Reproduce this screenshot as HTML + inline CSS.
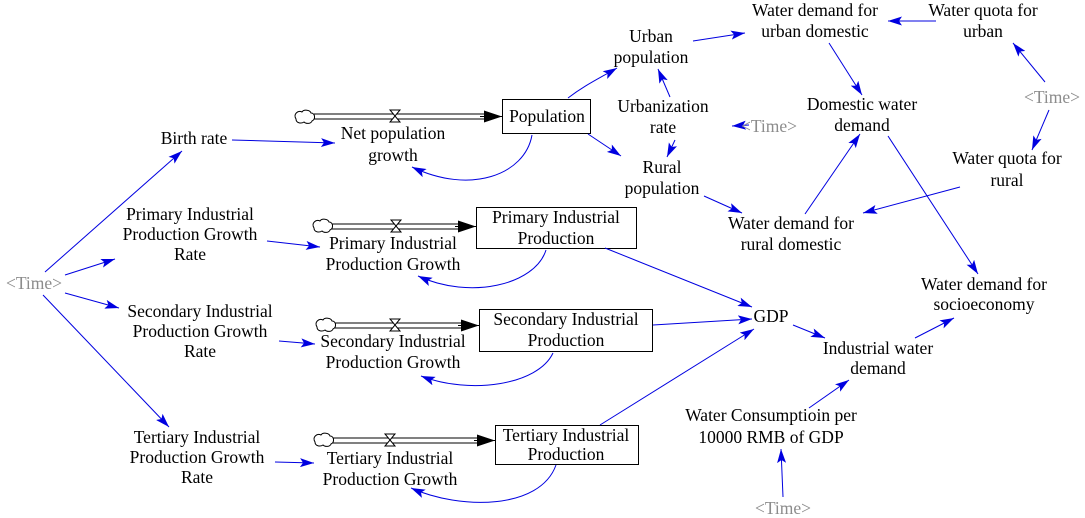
<!DOCTYPE html>
<html><head><meta charset="utf-8"><style>
html,body{margin:0;padding:0;background:#fff;}
svg{display:block;}
svg text{font-family:"Liberation Serif","Times New Roman","DejaVu Serif",serif;font-size:17.5px;fill:#000;text-anchor:middle;}
svg text.g{fill:#8c8c8c;}
.a{stroke:#0000e0;stroke-width:1;fill:none;marker-end:url(#ah);}
.box{fill:#fff;stroke:#000;stroke-width:1;}
</style></head><body>
<svg width="1085" height="518" viewBox="0 0 1085 518" xmlns="http://www.w3.org/2000/svg" font-family="Liberation Serif, serif">
<defs>
<marker id="ah" viewBox="0 0 14 9" refX="14" refY="4.5" markerWidth="14" markerHeight="9" markerUnits="userSpaceOnUse" orient="auto">
<path d="M0,0 L14,4.5 L0,9 L3,4.5 Z" fill="#0000e0"/>
</marker>
<marker id="fh" viewBox="0 0 18 12" refX="18" refY="6" markerWidth="18" markerHeight="12" markerUnits="userSpaceOnUse" orient="auto">
<path d="M0,0 L18,6 L0,12 Z" fill="#000"/>
</marker>
<g id="cloud"><path d="M-9,2 C-12,-3 -7,-7 -3,-5 C-1,-8 5,-7 6,-4 C10,-4 11,2 7,4 C6,7 1,7 -1,5 C-4,7 -9,6 -9,2 Z" fill="#fff" stroke="#000" stroke-width="1"/></g>
<g id="valve"><path d="M-5,-6 L5,-6 L-5,6 L5,6 Z" fill="#fff" stroke="#000" stroke-width="1"/></g>
</defs>

<g stroke="#000" stroke-width="1">
<line x1="314" y1="114" x2="484" y2="114"/><line x1="314" y1="119" x2="484" y2="119"/>
<line x1="331" y1="224" x2="458" y2="224"/><line x1="331" y1="229" x2="458" y2="229"/>
<line x1="334" y1="323" x2="461" y2="323"/><line x1="334" y1="328" x2="461" y2="328"/>
<line x1="332" y1="438" x2="477" y2="438"/><line x1="332" y1="443" x2="477" y2="443"/>
</g>
<line x1="480" y1="116.5" x2="502" y2="116.5" stroke="#000" marker-end="url(#fh)"/>
<line x1="455" y1="226.5" x2="476" y2="226.5" stroke="#000" marker-end="url(#fh)"/>
<line x1="458" y1="325.5" x2="479" y2="325.5" stroke="#000" marker-end="url(#fh)"/>
<line x1="474" y1="440.5" x2="495" y2="440.5" stroke="#000" marker-end="url(#fh)"/>
<use href="#cloud" x="305" y="117"/><use href="#cloud" x="323" y="226"/>
<use href="#cloud" x="326" y="325"/><use href="#cloud" x="324" y="440"/>
<use href="#valve" x="395" y="116"/><use href="#valve" x="396" y="226"/>
<use href="#valve" x="395" y="325"/><use href="#valve" x="390" y="440"/>

<rect class="box" x="502.5" y="99.5" width="88" height="34"/>
<rect class="box" x="476.5" y="207.5" width="160" height="41"/>
<rect class="box" x="479.5" y="309.5" width="173" height="42"/>
<rect class="box" x="495.5" y="425.5" width="143" height="39"/>

<path class="a" d="M232,140 L335,143"/>
<path class="a" d="M532,135 C525,175 470,195 412,167"/>
<path class="a" d="M588,134 L621,156"/>
<path class="a" d="M568,98 C585,85 600,78 617,68"/>
<path class="a" d="M670,97 L658,69"/>
<path class="a" d="M749,125 L732,126"/>
<path class="a" d="M675,140 L667,157"/>
<path class="a" d="M693,41 L745,33"/>
<path class="a" d="M936,21 L888,21"/>
<path class="a" d="M829,43 L862,95"/>
<path class="a" d="M1045,82 L1013,43"/>
<path class="a" d="M1049,110 L1032,150"/>
<path class="a" d="M704,196 L742,213"/>
<path class="a" d="M960,187 L863,213"/>
<path class="a" d="M805,214 L860,134"/>
<path class="a" d="M888,136 L978,274"/>
<path class="a" d="M915,338 L954,318"/>
<path class="a" d="M809,408 L849,380"/>
<path class="a" d="M783,497 L781,449"/>
<path class="a" d="M605,248 L752,307"/>
<path class="a" d="M653,325 L752,319"/>
<path class="a" d="M600,425 L754,329"/>
<path class="a" d="M793,325 L825,338"/>
<path class="a" d="M45,272 L182,151"/>
<path class="a" d="M65,275 L115,259"/>
<path class="a" d="M65,293 L119,308"/>
<path class="a" d="M43,295 L169,427"/>
<path class="a" d="M267,241 L320,247"/>
<path class="a" d="M279,341 L315,344"/>
<path class="a" d="M275,462 L314,463"/>
<path class="a" d="M546,250 C535,285 470,300 418,276"/>
<path class="a" d="M553,353 C538,385 470,395 421,376"/>
<path class="a" d="M556,465 C540,510 460,510 411,488"/>

<text x="547" y="122">Population</text>
<text x="393" y="139">Net population</text><text x="393" y="161">growth</text>
<text x="194" y="144">Birth rate</text>
<text x="651" y="42">Urban</text><text x="651" y="63">population</text>
<text x="663" y="112">Urbanization</text><text x="663" y="133">rate</text>
<text class="g" x="769" y="132">&lt;Time&gt;</text>
<text x="662" y="173">Rural</text><text x="662" y="194">population</text>
<text x="815" y="16">Water demand for</text><text x="815" y="37">urban domestic</text>
<text x="983" y="16">Water quota for</text><text x="983" y="37">urban</text>
<text class="g" x="1052" y="103">&lt;Time&gt;</text>
<text x="862" y="110">Domestic water</text><text x="862" y="131">demand</text>
<text x="1007" y="164">Water quota for</text><text x="1007" y="186">rural</text>
<text x="791" y="229">Water demand for</text><text x="791" y="250">rural domestic</text>
<text x="984" y="290">Water demand for</text><text x="984" y="310">socioeconomy</text>
<text x="190" y="220">Primary Industrial</text><text x="190" y="240">Production Growth</text><text x="190" y="260">Rate</text>
<text x="556" y="223">Primary Industrial</text><text x="556" y="244">Production</text>
<text x="393" y="249">Primary Industrial</text><text x="393" y="270">Production Growth</text>
<text class="g" x="34" y="289">&lt;Time&gt;</text>
<text x="200" y="317">Secondary Industrial</text><text x="200" y="337">Production Growth</text><text x="200" y="357">Rate</text>
<text x="566" y="325">Secondary Industrial</text><text x="566" y="346">Production</text>
<text x="393" y="347">Secondary Industrial</text><text x="393" y="368">Production Growth</text>
<text x="771" y="322">GDP</text>
<text x="878" y="354">Industrial water</text><text x="878" y="374">demand</text>
<text x="771" y="421">Water Consumptioin per</text><text x="771" y="443">10000 RMB of GDP</text>
<text class="g" x="783" y="514">&lt;Time&gt;</text>
<text x="197" y="443">Tertiary Industrial</text><text x="197" y="463">Production Growth</text><text x="197" y="483">Rate</text>
<text x="566" y="441">Tertiary Industrial</text><text x="566" y="460">Production</text>
<text x="390" y="464">Tertiary Industrial</text><text x="390" y="485">Production Growth</text>
</svg>
</body></html>
